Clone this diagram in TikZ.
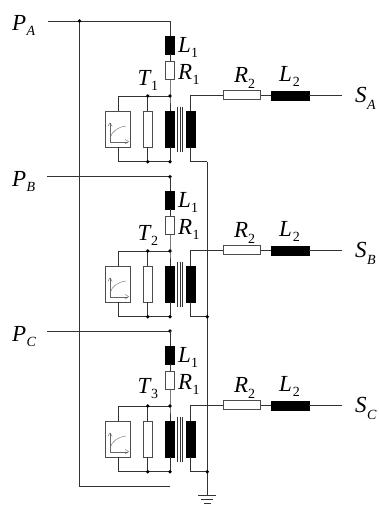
\documentclass[tikz,border=0pt]{standalone}
\usepackage{fontspec}
\setmainfont{Liberation Serif}
\usetikzlibrary{arrows.meta}
\tikzset{
  wire/.style={draw=black!80,line width=0.8pt},
  dotj/.style={circle,fill=black,inner sep=0pt,minimum size=3.8pt},
  blk/.style={draw=black,fill=black,line width=0.5pt,inner sep=0pt,rectangle},
  res/.style={draw=black!70,fill=white,line width=0.8pt,inner sep=0pt,rectangle},
  lab/.style={anchor=base west,inner sep=0pt,font=\fontsize{23}{23}\selectfont\itshape},
  subn/.style={anchor=base west,inner sep=0pt,font=\fontsize{14}{14}\selectfont},
  subi/.style={anchor=base west,inner sep=0pt,font=\fontsize{14}{14}\selectfont\itshape},
  axs/.style={draw=black!60,line width=0.4pt,-{Straight Barb[length=3.5pt,width=4.5pt]}},
  corel/.style={draw=black!80,line width=0.9pt},
}
\begin{document}
\begin{tikzpicture}[x=1pt,y=-1pt]
\useasboundingbox (0,0) rectangle (378,506);
\coordinate (pa) at (48,21);
\coordinate (pb) at (47,176.7);
\coordinate (pc) at (47,331);
\coordinate (ja) at (170,21);
\coordinate (jb) at (170,176.7);
\coordinate (jc) at (170,331);
\coordinate (outer) at (79.5,21);
\coordinate (outerb) at (79.5,486.7);
\coordinate (mainb) at (170,486.7);
\draw[wire] (pa) -- (ja);
\draw[wire] (pb) -- (jb);
\draw[wire] (pc) -- (jc);
\draw[wire] (outer) -- (outerb) -- (mainb);
\node[dotj] at (outer) {};
\node[dotj] at (jb) {};
\node[dotj] at (jc) {};
\foreach \n/\o/\tn/\ty/\s/\pin in {1/0/1/85/A/ja,2/155/2/240/B/jb,3/310/3/393/C/jc}{
  \begin{scope}[shift={(0,\o)}]
    \node[blk,minimum width=9.4pt,minimum height=18pt] (l\n) at (170,45) {};
    \node[res,minimum width=9.4pt,minimum height=17.6pt] (r\n) at (170,70.5) {};
    \node[blk,minimum width=9.4pt,minimum height=36pt] (p\n) at (170,129) {};
    \node[blk,minimum width=9.4pt,minimum height=36pt] (s\n) at (190.5,129) {};
    \node[res,minimum width=9.4pt,minimum height=36pt] (t\n) at (147.8,129) {};
    \node[res,minimum width=25.6pt,minimum height=36pt] (g\n) at (118,129) {};
    \node[res,minimum width=37.4pt,minimum height=9pt] (rr\n) at (242,95.3) {};
    \node[blk,minimum width=37.4pt,minimum height=9pt] (ll\n) at (290.4,95.3) {};
    \coordinate (top\n) at (170,96);
    \coordinate (bot\n) at (170,161.7);
    \coordinate (ttop\n) at (147.8,96);
    \coordinate (tbot\n) at (147.8,161.7);
    \coordinate (gtop\n) at (118,96);
    \coordinate (gbot\n) at (118,161.7);
    \coordinate (stop\n) at (190.5,95.3);
    \coordinate (sbot\n) at (190.5,161.7);
    \coordinate (gnd\n) at (207.3,161.7);
    \coordinate (out\n) at (341.7,95.3);
    \draw[corel] (177.5,106.7) -- (177.5,151.7);
    \draw[corel] (180,106.7) -- (180,151.7);
    \draw[corel] (182.5,106.7) -- (182.5,151.7);
    \draw[wire] (\pin) -- (l\n);
    \draw[wire] (l\n) -- (r\n);
    \draw[wire] (r\n) -- (top\n) -- (p\n);
    \draw[wire] (p\n) -- (bot\n);
    \draw[wire] (gtop\n) -- (top\n);
    \draw[wire] (gbot\n) -- (bot\n);
    \draw[wire] (ttop\n) -- (t\n);
    \draw[wire] (t\n) -- (tbot\n);
    \draw[wire] (gtop\n) -- (gtop\n |- g\n.north);
    \draw[wire] (gbot\n) -- (gbot\n |- g\n.south);
    \draw[wire] (s\n) -- (stop\n) -- (rr\n);
    \draw[wire] (s\n) -- (sbot\n) -- (gnd\n);
    \draw[wire] (rr\n) -- (ll\n);
    \draw[wire] (ll\n) -- (out\n);
    \node[dotj] at (top\n) {};
    \node[dotj] at (bot\n) {};
    \node[dotj] at (ttop\n) {};
    \node[dotj] at (tbot\n) {};
    \draw[axs] (110,141.7) -- (110,122.5);
    \draw[axs] (110,141.7) -- (129,141.7);
    \draw[draw=black!55,line width=0.4pt] (110,138) .. controls (112,131) and (118,127) .. (126,126);
    \node[lab] (ll1\n) at (178,52.7) {L};
    \node[subn] at (191,57.7) {1};
    \node[lab] (rl1\n) at (178,79) {R};
    \node[subn] at (192.5,84) {1};
    \node[lab] (rl2\n) at (234,82.7) {R};
    \node[subn] at (248,88.3) {2};
    \node[lab] (ll2\n) at (279,81.7) {L};
    \node[subn] at (292.7,86.7) {2};
    \node[lab] (sl\n) at (355,102.7) {S};
    \node[subi] at (367,109) {\s};
  \end{scope}
  \node[lab] (tl\n) at (137.5,\ty) {T};
  \node[subn] at (151,\ty+5) {\tn};
}
\draw[wire] (gnd1) -- (207.3,495.7) coordinate (earth);
\node[dotj] at (gnd2) {};
\node[dotj] at (gnd3) {};
\draw[wire] ([xshift=-9pt]earth) -- ([xshift=9pt]earth);
\draw[wire] ([xshift=-6pt,yshift=-3.7pt]earth) -- ([xshift=6pt,yshift=-3.7pt]earth);
\draw[wire] ([xshift=-3.5pt,yshift=-7.4pt]earth) -- ([xshift=3.5pt,yshift=-7.4pt]earth);
\node[lab] at (12,30) {P};
\node[subi] at (26.5,35.7) {A};
\node[lab] at (12,186) {P};
\node[subi] at (26.5,191.7) {B};
\node[lab] at (12,341) {P};
\node[subi] at (26.5,346.7) {C};
\end{tikzpicture}
\end{document}
